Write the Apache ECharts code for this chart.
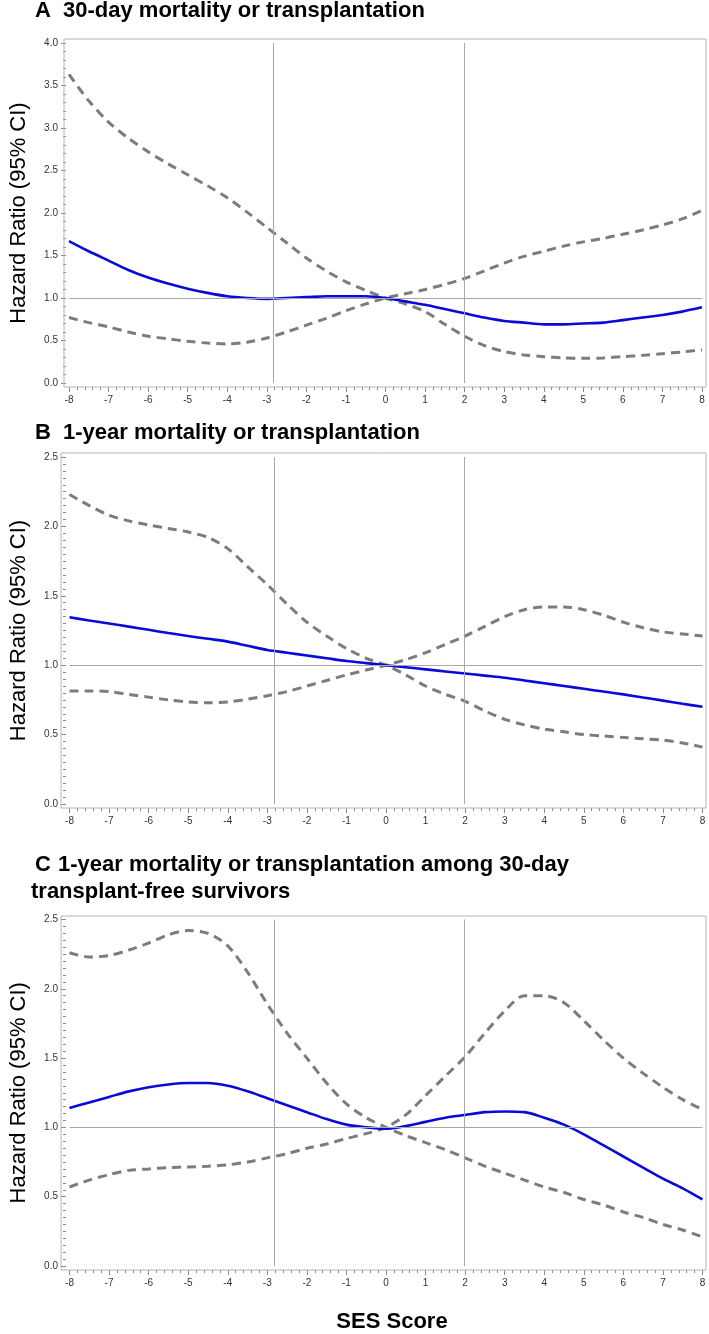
<!DOCTYPE html>
<html><head><meta charset="utf-8">
<script src="https://cdn.jsdelivr.net/npm/echarts@6/dist/echarts.min.js"></script>
<style>html,body{margin:0;padding:0;background:#fff}#c{width:709px;height:1334px}</style>
</head><body><div id="c"></div><script>
// ---- data ----
const sesScore = [-8,-7.5,-7,-6.5,-6,-5.5,-5,-4.5,-4,-3.5,-3,-2.5,-2,-1.5,-1,-0.5,0,0.5,1,1.5,2,2.5,3,3.5,4,4.5,5,5.5,6,6.5,7,7.5,8];
const quintileCutoffs = [-2.83, 1.99];
const referenceHR = 1;

const panelTitles = ['30-day mortality or transplantation', '1-year mortality or transplantation', '1-year mortality or transplantation among 30-day', 'transplant-free survivors'];
const panelLetters = ['A', 'B', 'C'];
const yAxisTitle = 'Hazard Ratio (95% CI)';
const xAxisTitle = 'SES Score';
const yMaxA = 4.0, yMaxBC = 2.5;

// Panel A
const aHR      = [1.67,1.55,1.44,1.33,1.24,1.17,1.11,1.06,1.02,1.00,0.99,1.00,1.01,1.02,1.02,1.02,1.00,0.96,0.92,0.87,0.82,0.77,0.73,0.71,0.69,0.69,0.70,0.71,0.74,0.77,0.80,0.84,0.89];
const aFalling = [3.63,3.32,3.07,2.88,2.72,2.58,2.45,2.32,2.18,2.01,1.83,1.65,1.47,1.32,1.19,1.09,1.00,0.93,0.84,0.69,0.55,0.44,0.37,0.33,0.31,0.295,0.29,0.295,0.31,0.325,0.345,0.365,0.39];
const aRising  = [0.77,0.71,0.66,0.60,0.55,0.52,0.49,0.47,0.46,0.48,0.53,0.60,0.68,0.76,0.85,0.93,1.00,1.05,1.10,1.16,1.23,1.32,1.41,1.49,1.55,1.61,1.66,1.70,1.75,1.80,1.86,1.93,2.03];
// Panel B
const bHR      = [1.345,1.322,1.30,1.278,1.255,1.232,1.21,1.19,1.17,1.14,1.11,1.09,1.07,1.05,1.03,1.015,1.00,0.985,0.97,0.955,0.94,0.925,0.91,0.89,0.87,0.85,0.83,0.81,0.79,0.767,0.745,0.722,0.70];
const bFalling = [2.23,2.15,2.08,2.04,2.01,1.985,1.96,1.92,1.84,1.71,1.58,1.44,1.31,1.21,1.12,1.05,1.00,0.93,0.85,0.79,0.74,0.67,0.61,0.57,0.54,0.52,0.50,0.49,0.48,0.47,0.46,0.44,0.41];
const bRising  = [0.815,0.815,0.81,0.79,0.77,0.75,0.735,0.73,0.735,0.755,0.78,0.81,0.85,0.89,0.93,0.965,1.00,1.04,1.09,1.15,1.21,1.28,1.35,1.40,1.42,1.42,1.40,1.36,1.31,1.27,1.24,1.225,1.21];
// Panel C
const cHR      = [1.14,1.18,1.22,1.26,1.29,1.31,1.32,1.32,1.30,1.26,1.21,1.16,1.11,1.06,1.02,1.00,0.99,1.01,1.04,1.07,1.09,1.11,1.115,1.11,1.07,1.02,0.95,0.87,0.79,0.71,0.63,0.56,0.48];
const cFalling = [2.26,2.23,2.24,2.28,2.33,2.39,2.42,2.40,2.31,2.12,1.89,1.68,1.50,1.32,1.17,1.07,1.00,0.94,0.89,0.84,0.78,0.72,0.67,0.62,0.57,0.53,0.48,0.44,0.39,0.35,0.30,0.26,0.21];
const cRising  = [0.57,0.62,0.66,0.69,0.70,0.71,0.715,0.72,0.73,0.75,0.78,0.81,0.85,0.88,0.92,0.955,1.00,1.09,1.23,1.37,1.51,1.68,1.84,1.95,1.95,1.90,1.77,1.63,1.50,1.39,1.29,1.20,1.13];

// ---- layout ----
const panels = [
  {letter: panelLetters[0], hr: aHR, lo: aFalling, hi: aRising, yMax: yMaxA, minorSplit: 5,
   left: 67, right: 702, top: 43, bottom: 383, box: [64, 39, 706, 387], titleTop: 0},
  {letter: panelLetters[1], hr: bHR, lo: bFalling, hi: bRising, yMax: yMaxBC, minorSplit: 10,
   left: 64.5, right: 702.5, top: 457, bottom: 804, box: [61, 453, 706, 808], titleTop: 422},
  {letter: panelLetters[2], hr: cHR, lo: cFalling, hi: cRising, yMax: yMaxBC, minorSplit: 10,
   left: 64.5, right: 702.5, top: 919.5, bottom: 1266, box: [61, 916, 706, 1270], titleTop: 854}
];
const FONT = '"Liberation Sans", Arial, sans-serif';
const BOX = '#b4b4b4';
const REF = '#a8a8a8';
const TICK = '#8a8a8a';

const pairs = ys => sesScore.map((x, i) => [x, ys[i]]);

const grid = [], xAxis = [], yAxis = [], series = [], graphic = [];
panels.forEach((p, k) => {
  grid.push({left: p.left, width: p.right - p.left, top: p.top, height: p.bottom - p.top, containLabel: false});
  xAxis.push({
    type: 'value', gridIndex: k, min: -8, max: 8, interval: 1, position: 'bottom', offset: p.box[3] - p.bottom,
    axisLine: {show: false, onZero: false},
    axisTick: {show: true, inside: false, length: 5, lineStyle: {color: TICK}},
    minorTick: {show: true, splitNumber: 5, length: 3, lineStyle: {color: TICK}},
    axisLabel: {show: true, fontFamily: FONT, fontSize: 10, color: '#333', margin: 8},
    splitLine: {show: false}
  });
  yAxis.push({
    type: 'value', gridIndex: k, min: 0, max: p.yMax, interval: 0.5, position: 'left', offset: p.left - p.box[0],
    axisLine: {show: false, onZero: false},
    axisTick: {show: true, inside: false, length: 5, lineStyle: {color: TICK}},
    minorTick: {show: true, splitNumber: p.minorSplit, length: 3, lineStyle: {color: TICK}},
    axisLabel: {show: true, fontFamily: FONT, fontSize: 10, color: '#333', margin: 8, formatter: v => v.toFixed(1)},
    splitLine: {show: false},
    name: yAxisTitle, nameLocation: 'middle', nameGap: 36,
    nameTextStyle: {fontFamily: FONT, fontSize: 22, color: '#000'}
  });
  // reference lines
  series.push({
    type: 'line', xAxisIndex: k, yAxisIndex: k, data: [], silent: true, z: 1,
    markLine: {
      silent: true, symbol: ['none', 'none'], label: {show: false}, animation: false,
      lineStyle: {color: REF, width: 1, type: 'solid'},
      data: [{yAxis: referenceHR}].concat(quintileCutoffs.map(c => ({xAxis: c})))
    }
  });
  [p.lo, p.hi].forEach(arr => series.push({
    type: 'line', xAxisIndex: k, yAxisIndex: k, data: pairs(arr), smooth: 0.3, showSymbol: false, z: 3,
    lineStyle: {color: '#7c7c7c', width: 3, type: [9, 6]}, animation: false
  }));
  series.push({
    type: 'line', xAxisIndex: k, yAxisIndex: k, data: pairs(p.hr), smooth: 0.3, showSymbol: false, z: 4,
    lineStyle: {color: '#0a0ad8', width: 2.6}, animation: false
  });
  graphic.push({type: 'rect', silent: true, z: 10,
    shape: {x: p.box[0], y: p.box[1], width: p.box[2] - p.box[0], height: p.box[3] - p.box[1]},
    style: {fill: 'none', stroke: BOX, lineWidth: 1}});
  graphic.push({type: 'text', left: 35, top: p.titleTop, silent: true,
    style: {text: p.letter, font: 'bold 22px ' + FONT, fill: '#000'}});
});
graphic.push({type: 'text', left: 63, top: panels[0].titleTop, style: {text: panelTitles[0], font: 'bold 22px ' + FONT, fill: '#000'}});
graphic.push({type: 'text', left: 63, top: panels[1].titleTop, style: {text: panelTitles[1], font: 'bold 22px ' + FONT, fill: '#000'}});
graphic.push({type: 'text', left: 58, top: panels[2].titleTop, style: {text: panelTitles[2], font: 'bold 22px ' + FONT, fill: '#000'}});
graphic.push({type: 'text', left: 31, top: panels[2].titleTop + 27, style: {text: panelTitles[3], font: 'bold 22px ' + FONT, fill: '#000'}});
graphic.push({type: 'text', x: 392, y: 1322, style: {text: xAxisTitle, font: 'bold 22px ' + FONT, fill: '#000', align: 'center', verticalAlign: 'middle'}});

const chart = echarts.init(document.getElementById('c'), null, {renderer: 'canvas'});
chart.setOption({backgroundColor: '#fff', animation: false, grid, xAxis, yAxis, series, graphic});
</script></body></html>
